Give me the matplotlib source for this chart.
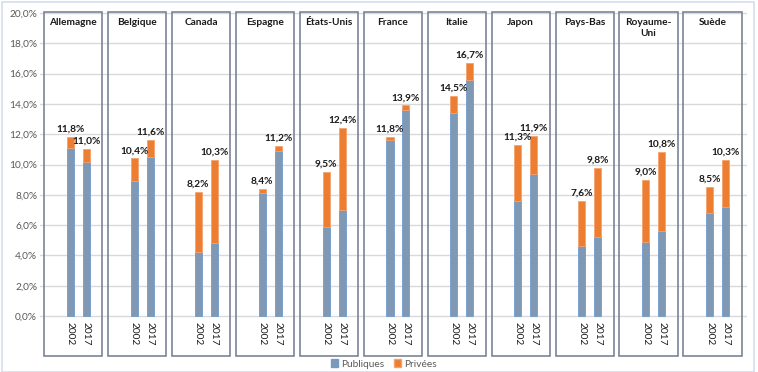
import matplotlib
matplotlib.use("Agg")
import matplotlib.pyplot as plt
from matplotlib.patches import Rectangle, Patch
import numpy as np

plt.rcParams['font.family'] = ['Lato', 'DejaVu Sans']

countries = ["Allemagne", "Belgique", "Canada", "Espagne", "États-Unis", "France",
             "Italie", "Japon", "Pays-Bas", "Royaume-\nUni", "Suède"]
years = ["2002", "2017"]
total_2002 = [11.8, 10.4, 8.2, 8.4, 9.5, 11.8, 14.5, 11.3, 7.6, 9.0, 8.5]
total_2017 = [11.0, 11.6, 10.3, 11.2, 12.4, 13.9, 16.7, 11.9, 9.8, 10.8, 10.3]
public_2002 = [11.1, 8.9, 4.2, 8.1, 5.9, 11.6, 13.4, 7.6, 4.6, 4.9, 6.8]
public_2017 = [10.2, 10.5, 4.8, 10.9, 7.0, 13.6, 15.6, 9.4, 5.2, 5.6, 7.2]
yticks = [0, 2, 4, 6, 8, 10, 12, 14, 16, 18, 20]

C_PUB = '#8198b3'
C_PUB_EDGE = '#6f9bd3'
C_PRI = '#ed7d31'
C_BOX = '#7c8595'
FS = 7.3

W, H = 758, 372
fig = plt.figure(figsize=(W / 100, H / 100), dpi=100)
ax = fig.add_axes([40 / W, 1 - 356 / H, (747 - 40) / W, (356 - 12) / H])
ax.set_xlim(-0.52, 10.54)
ax.set_ylim(-2.64, 20.07)

ax.set_yticks(yticks)
ax.set_yticklabels([f"{v:.1f}%".replace('.', ',') for v in yticks], fontsize=FS, color='#595959')
ax.set_xticks([])
ax.tick_params(axis='y', length=0, pad=2)
for s in ax.spines.values():
    s.set_visible(False)
ax.grid(axis='y', color='#d9d9d9', linewidth=1.0, zorder=0)
ax.set_axisbelow(True)

x = np.arange(len(countries))
off = [-0.045, 0.205]
bw = 0.11
pri_2002 = [t - p for t, p in zip(total_2002, public_2002)]
pri_2017 = [t - p for t, p in zip(total_2017, public_2017)]

for k, (pub, pri, tot) in enumerate([(public_2002, pri_2002, total_2002),
                                      (public_2017, pri_2017, total_2017)]):
    xs = x + off[k]
    ax.bar(xs, pub, width=bw, color=C_PUB, edgecolor=C_PUB_EDGE, linewidth=0.6, zorder=3)
    ax.bar(xs, pri, width=bw, bottom=pub, color=C_PRI, edgecolor='#f4a36e', linewidth=0.6, zorder=3)
    for xi, t in zip(xs, tot):
        ax.text(xi, t + 0.22, f"{t:.1f}%".replace('.', ','), ha='center', va='bottom',
                fontsize=FS, fontweight='bold', color='#1a1a1a', zorder=5)
    for xi in xs:
        ax.text(xi, -0.4, years[k], rotation=-90, ha='center', va='top',
                fontsize=FS, color='#1a1a1a')

for i, c in enumerate(countries):
    r = Rectangle((i - 0.455, -2.64), 0.91, 22.71, fill=False, edgecolor=C_BOX,
                  linewidth=1.2, clip_on=False, zorder=4)
    ax.add_patch(r)
    ax.text(i, 19.65, c, ha='center', va='top', fontsize=FS, fontweight='bold',
            color='#1a1a1a', linespacing=1.25)

# outer chart frame
fig.patches.append(Rectangle((2 / W, 0.0), (W - 6) / W, 1 - 2 / H, transform=fig.transFigure,
                             fill=False, edgecolor='#d3deec', linewidth=1.2))

handles = [Patch(facecolor=C_PUB, edgecolor=C_PUB_EDGE, label='Publiques'),
           Patch(facecolor=C_PRI, edgecolor='#f4a36e', label='Privées')]
fig.legend(handles=handles, loc='center', bbox_to_anchor=(384 / W, 1 - 364 / H), ncol=2,
           frameon=False, fontsize=FS, handlelength=0.7, handleheight=0.7,
           handletextpad=0.3, columnspacing=1.0, labelcolor='#595959')

fig.savefig('out.png', dpi=100)
